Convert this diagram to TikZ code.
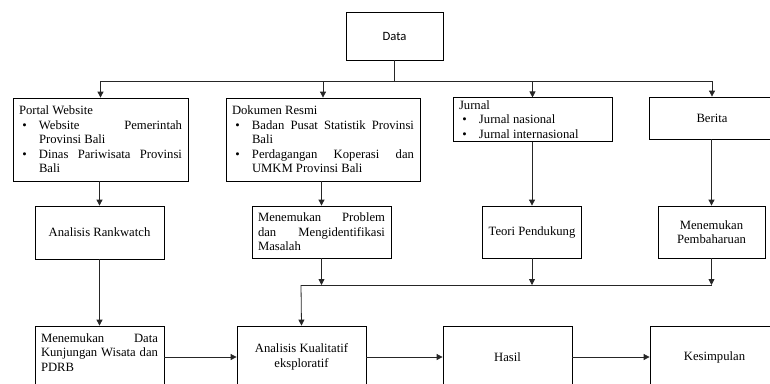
\documentclass[tikz,border=0pt]{standalone}
\usepackage{fontspec}
\setmainfont{Liberation Serif}
\newfontfamily\calibri{Carlito}
\usepackage{tikz}
\usetikzlibrary{arrows.meta,calc,positioning}

\newcommand{\teks}{\fontsize{9.5}{10.9}\selectfont\hyphenpenalty=10000\exhyphenpenalty=10000}
\newcommand{\butir}[1]{\par\hangindent=15pt\hangafter=1\noindent\makebox[15pt][l]{\hspace{2.5pt}\textbullet}#1\par}

\begin{document}
\begin{tikzpicture}[x=0.75pt,y=-0.75pt,line width=0.6pt,>={Triangle[length=4.5pt,width=4.5pt]}]
    \tikzstyle{kotak}=[draw, rectangle, inner xsep=4.5pt, inner ysep=2pt, font=\teks, align=center]
    \tikzstyle{rata}=[kotak, align=justify]
    \tikzstyle{panah}=[->, draw=black!85]

    \useasboundingbox (0,0) rectangle (770,383);

    \node[kotak, font=\calibri\fontsize{9.5}{11}\selectfont, minimum width=72.75pt, minimum height=36pt] (data) at (394.5,36) {Data};

    \node[rata, text width=122.25pt, minimum height=62.25pt] (portal) at (100.5,139.5)
        {Portal Website\butir{Website Pemerintah\linebreak Provinsi Bali}\butir{Dinas Pariwisata Provinsi\linebreak Bali}};
    \node[rata, text width=136.5pt, minimum height=62.25pt] (dokumen) at (323,139.5)
        {Dokumen Resmi\butir{Badan Pusat Statistik Provinsi\linebreak Bali}\butir{Perdagangan Koperasi dan\linebreak UMKM Provinsi Bali}};
    \node[rata, text width=110.25pt, minimum height=32.25pt] (jurnal) at (532.5,119.5)
        {Jurnal\butir{Jurnal nasional}\butir{Jurnal internasional}};
    \node[kotak, minimum width=94.5pt, minimum height=31.5pt] (berita) at (712,118) {Berita};

    \node[kotak, minimum width=96.75pt, minimum height=39.75pt] (rankwatch) at (99.5,232.5) {Analisis Rankwatch};
    \node[rata, text width=95.25pt, minimum height=39pt] (problem) at (321.5,232)
        {Menemukan Problem\linebreak dan Mengidentifikasi\linebreak Masalah};
    \node[kotak, minimum width=73.5pt, minimum height=39pt] (teori) at (532,232) {Teori Pendukung};
    \node[kotak, minimum width=80.25pt, minimum height=39pt] (pembaharuan) at (711.5,232) {Menemukan\\Pembaharuan};

    \node[kotak, inner ysep=5.75pt] (kunjungan) at (99.5,357)
        {\parbox[c][35pt][t]{87.75pt}{Menemukan Data\linebreak Kunjungan Wisata dan\linebreak PDRB}};
    \node[kotak, minimum width=96.75pt, minimum height=46.5pt] (kualitatif) at (301.5,357) {Analisis Kualitatif\\eksploratif};
    \node[kotak, minimum width=96.75pt, minimum height=46.5pt] (hasil) at (507.5,357) {Hasil};
    \node[kotak, minimum width=96.75pt, minimum height=46.5pt] (kesimpulan) at (714.5,357) {Kesimpulan};

    % cabang dari Data
    \coordinate (bus kiri) at (101,81);
    \coordinate (bus kanan) at (712,81);
    \draw[draw=black!85] (data.south) -- (data.south |- bus kiri);
    \draw[draw=black!85] (bus kiri) -- (bus kanan);
    \draw[panah] (portal.north |- bus kiri) -- (portal.north);
    \draw[panah] (dokumen.north |- bus kiri) -- (dokumen.north);
    \draw[panah] (jurnal.north |- bus kiri) -- (jurnal.north);
    \draw[panah] (berita.north |- bus kiri) -- (berita.north);

    \draw[panah] (rankwatch.north |- portal.south) -- (rankwatch.north);
    \draw[panah] (problem.north |- dokumen.south) -- (problem.north);
    \draw[panah] (teori.north |- jurnal.south) -- (teori.north);
    \draw[panah] (pembaharuan.north |- berita.south) -- (pembaharuan.north);

    % gabungan ke analisis kualitatif
    \coordinate (gabung kiri) at (301,285);
    \coordinate (gabung kanan) at (712,285);
    \draw[panah] (problem.south) -- (problem.south |- gabung kiri);
    \draw[panah] (teori.south) -- (teori.south |- gabung kiri);
    \draw[panah] (pembaharuan.south) -- (pembaharuan.south |- gabung kiri);
    \draw[draw=black!85] (gabung kiri) -- (gabung kanan);
    \draw[panah] (gabung kiri) -- (kualitatif.north);

    \draw[panah] (rankwatch.south) -- (kunjungan.north);
    \draw[panah] (kunjungan.east) -- (kualitatif.west);
    \draw[panah] (kualitatif.east) -- (hasil.west);
    \draw[panah] (hasil.east) -- (kesimpulan.west);
\end{tikzpicture}
\end{document}
